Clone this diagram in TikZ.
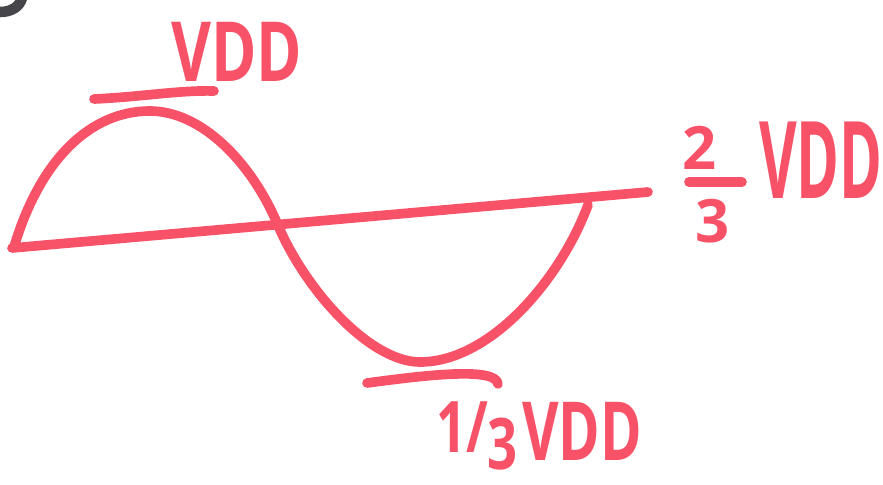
\documentclass[tikz,border=0pt]{standalone}
\usepackage{fontspec}
\setsansfont{Open Sans}
\usepackage{tikz}
\usetikzlibrary{positioning, calc}
\definecolor{mypink}{RGB}{248,82,104}
\definecolor{mygray}{RGB}{70,70,74}
\tikzset{
  marker/.style={line width=5.5pt, line cap=round, line join=round, color=mypink},
  lbl/.style={font=\sffamily\bfseries, text=mypink, inner sep=0pt}
}

\begin{document}
\begin{tikzpicture}[x=0.02cm, y=-0.02cm]
  \useasboundingbox (0,0) rectangle (883,484);
  % Corner fragment
  \draw[line width=6pt, line cap=round, color=mygray] (0,12) .. controls (12,12) and (20,6) .. (22,-2);
  % Axis line
  \coordinate (axl) at (12,248);
  \coordinate (axr) at (648,192);
  \draw[marker] (axl) -- (axr);
  % Sine wave
  \coordinate (wstart) at (14,247);
  \coordinate (wtop) at (150,111);
  \coordinate (wcross) at (277,223);
  \coordinate (wlow) at (420,362);
  \coordinate (wend) at (588,205);
  \draw[marker] (wstart) .. controls (40,160) and (90,111) .. (wtop)
    .. controls (200,111) and (250,160) .. (wcross)
    .. controls (305,290) and (370,362) .. (wlow)
    .. controls (490,362) and (560,280) .. (wend);
  % Max marker
  \coordinate (maxl) at (94,99);
  \coordinate (maxr) at (214,91);
  \draw[marker] (maxl) .. controls (140,97) and (180,90) .. (maxr);
  % Min marker
  \coordinate (minl) at (367,383);
  \coordinate (minr) at (498,384);
  \draw[marker] (minl) .. controls (420,376) and (496,366) .. (minr);
  % Labels
  \node[lbl, font=\sffamily\bfseries\fontsize{35}{35}\selectfont] (vddtop) at (237,52)
    {\scalebox{1}[1.35]{VDD}};
  \node[lbl, font=\sffamily\bfseries\fontsize{33}{33}\selectfont] (vddmid) at (821,160)
    {\scalebox{1}[1.85]{VDD}};
  \node[lbl, font=\sffamily\bfseries\fontsize{34}{34}\selectfont] (twonum) at (700,148) {2};
  \node[lbl, font=\sffamily\bfseries\fontsize{34}{34}\selectfont] (threeden) at (713,221) {3};
  \coordinate (barl) at (689,182);
  \coordinate (barr) at (742,182);
  \draw[marker] (barl) -- (barr);
  \node[lbl, font=\sffamily\bfseries\fontsize{30}{30}\selectfont] (onethird) at (477,436)
    {\scalebox{1}[1.35]{1/\raisebox{-0.25em}{3}}};
  \node[lbl, font=\sffamily\bfseries\fontsize{32}{32}\selectfont] (vddlow) at (582,431)
    {\scalebox{1}[1.45]{VDD}};
\end{tikzpicture}
\end{document}
